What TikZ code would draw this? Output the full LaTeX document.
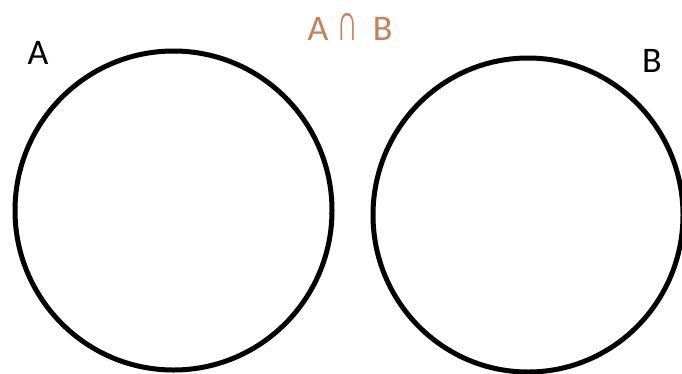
\documentclass[tikz,border=0pt]{standalone}
\usepackage{fontspec}
\setmainfont{Carlito}
\usetikzlibrary{shapes.geometric}
\definecolor{capcol}{RGB}{196,128,90}
\newcommand{\tallcap}{\scalebox{0.8}[1.45]{∩}}

\begin{document}
\begin{tikzpicture}[x=1pt, y=-1pt,
    setbox/.style={draw=black, ellipse, line width=5pt, inner sep=0pt},
    setlbl/.style={font=\fontsize{36}{36}\selectfont, text=black, inner sep=0pt},
    oplbl/.style={font=\fontsize{36}{36}\selectfont, text=capcol, inner sep=0pt},
]
\useasboundingbox (0,0) rectangle (682,373);
% the two sets
\node[setbox, minimum width=317pt, minimum height=319pt] (setA) at (173.5,210.5) {};
\node[setbox, minimum width=310pt, minimum height=314pt] (setB) at (528,215) {};
% labels
\node[setlbl] (lblA) at (38,53) {A};
\node[setlbl] (lblB) at (652,61) {B};
\node[oplbl] (lblAB) at (350,27) {A\hspace{0.25em}\tallcap\hspace{0.42em}B};
\end{tikzpicture}
\end{document}
